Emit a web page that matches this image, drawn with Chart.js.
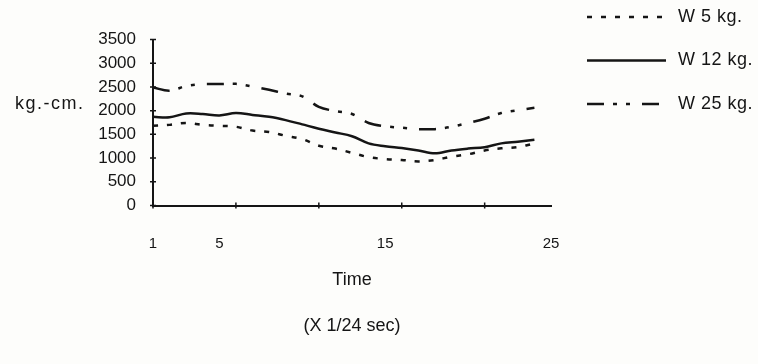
<!DOCTYPE html>
<html>
<head>
<meta charset="utf-8">
<script src="https://cdn.jsdelivr.net/npm/chart.js@4"></script>
<style>
  html, body { margin: 0; padding: 0; background: #fdfdfb; }
  #wrap { width: 758px; height: 364px; }
</style>
</head>
<body>
<div id="wrap"><canvas id="momentChart" width="758" height="364"></canvas></div>
<script>
// frames (x 1/24 sec) and moment in kg.-cm. for each load
const times = [1, 2, 3, 4, 5, 6, 7, 8, 9, 10, 11, 12, 13, 14, 15, 16, 17, 18, 19, 20, 21, 22, 23, 24];
const w5  = [1680, 1700, 1740, 1700, 1680, 1660, 1580, 1550, 1470, 1400, 1260, 1200, 1110, 1020, 980, 960, 930, 960, 1030, 1080, 1160, 1205, 1230, 1310];
const w12 = [1870, 1860, 1940, 1930, 1900, 1950, 1910, 1870, 1800, 1710, 1620, 1540, 1460, 1310, 1250, 1210, 1160, 1100, 1160, 1200, 1230, 1310, 1345, 1385];
const w25 = [2490, 2420, 2520, 2560, 2560, 2565, 2510, 2440, 2360, 2300, 2080, 1990, 1930, 1740, 1670, 1640, 1610, 1610, 1660, 1740, 1830, 1950, 2010, 2060];
const seriesNames = ['W 5 kg.', 'W 12 kg.', 'W 25 kg.'];

const yTicks = [0, 500, 1000, 1500, 2000, 2500, 3000, 3500];
const xTickLabels = [1, 5, 15, 25];
const xTickMarks = [1, 6, 11, 16, 21];

const INK = '#151515';
const FONT = '"Liberation Sans", Arial, sans-serif';

function points(values) {
  return times.map((t, i) => ({ x: t, y: values[i] }));
}

// small marks that cross both axis lines
const crossTicks = {
  id: 'crossTicks',
  afterDraw(chart) {
    const { ctx, scales: { x, y } } = chart;
    ctx.save();
    ctx.strokeStyle = INK;
    ctx.lineWidth = 1.5;
    ctx.beginPath();
    xTickMarks.forEach(v => {
      const px = x.getPixelForValue(v);
      ctx.moveTo(px, y.bottom - 3);
      ctx.lineTo(px, y.bottom + 3);
    });
    yTicks.forEach(v => {
      const py = y.getPixelForValue(v);
      ctx.moveTo(x.left - 3, py);
      ctx.lineTo(x.left + 3, py);
    });
    ctx.stroke();
    ctx.restore();
  }
};

// unit label left of the y axis, written horizontally
const unitLabel = {
  id: 'unitLabel',
  afterDraw(chart) {
    const { ctx, scales: { y } } = chart;
    ctx.save();
    ctx.fillStyle = INK;
    ctx.font = `18px ${FONT}`;
    ctx.letterSpacing = '1.5px';
    ctx.textBaseline = 'alphabetic';
    ctx.fillText('kg.-cm.', y.left + 15, y.getPixelForValue(2000) - 2);
    ctx.restore();
  }
};

// line samples with names, stacked at the upper right
const sideLegend = {
  id: 'sideLegend',
  afterDraw(chart) {
    const { ctx, chartArea } = chart;
    const x0 = chartArea.right + 36;
    const x1 = x0 + 79;
    chart.data.datasets.forEach((ds, i) => {
      const yy = 17 + i * 43.5;
      ctx.save();
      ctx.strokeStyle = ds.borderColor;
      ctx.lineWidth = ds.borderWidth;
      ctx.setLineDash(ds.borderDash || []);
      ctx.beginPath();
      ctx.moveTo(x0, yy);
      ctx.lineTo(x1, yy);
      ctx.stroke();
      ctx.setLineDash([]);
      ctx.fillStyle = INK;
      ctx.font = `18px ${FONT}`;
      ctx.letterSpacing = '0.5px';
      ctx.textBaseline = 'middle';
      ctx.fillText(ds.label, x1 + 12, yy);
      ctx.restore();
    });
  }
};

const datasets = [
  { label: seriesNames[0], data: points(w5), borderDash: [5, 9] },
  { label: seriesNames[1], data: points(w12) },
  { label: seriesNames[2], data: points(w25), borderDash: [17, 9, 4, 9, 4, 12] }
].map(ds => Object.assign({
  borderColor: INK,
  borderWidth: 2.5,
  pointRadius: 0,
  tension: 0.35,
  fill: false
}, ds));

new Chart(document.getElementById('momentChart'), {
  type: 'line',
  data: { datasets },
  plugins: [crossTicks, unitLabel, sideLegend],
  options: {
    responsive: false,
    animation: false,
    devicePixelRatio: 1,
    layout: { padding: { top: 39.5, right: 207, bottom: 0, left: 0 } },
    plugins: {
      legend: { display: false },
      tooltip: { enabled: false }
    },
    scales: {
      x: {
        type: 'linear',
        min: 1,
        max: 25,
        afterBuildTicks: s => { s.ticks = xTickLabels.map(v => ({ value: v })); },
        afterFit: s => { s.height = 158.5; },
        grid: { display: false, drawTicks: false },
        border: { display: true, color: INK, width: 2 },
        ticks: {
          padding: 29,
          color: INK,
          maxRotation: 0,
          autoSkip: false,
          font: { family: FONT, size: 15 }
        },
        title: {
          display: true,
          text: ['Time', '(X 1/24 sec)'],
          color: INK,
          font: { family: FONT, size: 18, lineHeight: 2.55 },
          padding: { top: 0, bottom: 15 }
        }
      },
      y: {
        min: 0,
        max: 3500,
        afterBuildTicks: s => { s.ticks = yTicks.map(v => ({ value: v })); },
        afterFit: s => { s.width = 153; },
        grid: { display: false, drawTicks: false },
        border: { display: true, color: INK, width: 2 },
        ticks: {
          padding: 17,
          color: INK,
          font: { family: FONT, size: 17 },
          callback: v => String(v)
        }
      }
    }
  }
});
</script>
</body>
</html>
